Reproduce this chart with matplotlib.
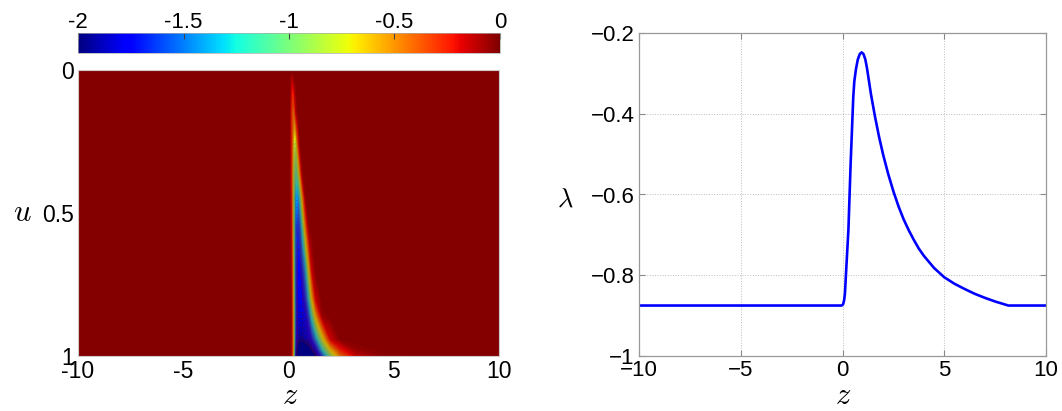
import numpy as np
import matplotlib
matplotlib.use('Agg')
import matplotlib.pyplot as plt
from matplotlib.cm import ScalarMappable
from matplotlib.colors import Normalize

plt.rcParams['font.family'] = ['Liberation Sans', 'DejaVu Sans']
plt.rcParams['mathtext.fontset'] = 'cm'
plt.rcParams['axes.unicode_minus'] = False

z_grid = [-10, 0.05, 0.15, 0.25, 0.35, 0.45, 0.55, 0.65, 0.8, 0.95, 1.1, 1.3, 1.6, 2.0, 2.5, 3.2, 4.5, 10]
u_grid = [0, 0.03, 0.15, 0.26, 0.36, 0.45, 0.55, 0.69, 0.8, 0.86, 0.94, 0.98, 1.0]
field = [
    [0, 0, 0,     0,     0,     0,     0,     0,     0,     0,     0,     0,     0,     0,     0,     0,     0,     0],
    [0, 0, -0.15, -0.05, 0,     0,     0,     0,     0,     0,     0,     0,     0,     0,     0,     0,     0,     0],
    [0, 0, -0.35, -0.5,  -0.15, 0,     0,     0,     0,     0,     0,     0,     0,     0,     0,     0,     0,     0],
    [0, 0, -0.3,  -0.8,  -0.85, -0.35, 0,     0,     0,     0,     0,     0,     0,     0,     0,     0,     0,     0],
    [0, 0, -0.3,  -0.95, -1.15, -0.95, -0.45, -0.05, 0,     0,     0,     0,     0,     0,     0,     0,     0,     0],
    [0, 0, -0.25, -1.0,  -1.45, -1.45, -1.15, -0.6,  -0.05, 0,     0,     0,     0,     0,     0,     0,     0,     0],
    [0, 0, -0.2,  -1.0,  -1.6,  -1.65, -1.55, -1.2,  -0.5,  -0.05, 0,     0,     0,     0,     0,     0,     0,     0],
    [0, 0, -0.15, -0.9,  -1.65, -1.75, -1.75, -1.65, -1.35, -0.7,  -0.15, 0,     0,     0,     0,     0,     0,     0],
    [0, 0, -0.1,  -0.85, -1.65, -1.8,  -1.8,  -1.8,  -1.65, -1.3,  -0.7,  -0.15, 0,     0,     0,     0,     0,     0],
    [0, 0, -0.1,  -0.8,  -1.65, -1.85, -1.85, -1.85, -1.8,  -1.6,  -1.2,  -0.6,  -0.05, 0,     0,     0,     0,     0],
    [0, 0, -0.1,  -0.8,  -1.7,  -1.9,  -1.95, -1.95, -1.9,  -1.85, -1.7,  -1.4,  -0.8,  -0.15, 0,     0,     0,     0],
    [0, 0, -0.1,  -0.8,  -1.8,  -2.1,  -2.2,  -2.2,  -2.15, -2.1,  -2.0,  -1.8,  -1.3,  -0.7,  -0.25, -0.05, -0.01, 0],
    [0, 0, -0.1,  -0.9,  -1.9,  -2.3,  -2.4,  -2.4,  -2.35, -2.3,  -2.2,  -2.0,  -1.6,  -1.0,  -0.45, -0.15, -0.03, 0],
]
cbar_ticks = [-2, -1.5, -1, -0.5, 0]
cbar_labels = ['-2', '-1.5', '-1', '-0.5', '0']

# right panel: lambda(z)
z_line = [-10, -0.04, 0.03, 0.08, 0.12, 0.2, 0.29, 0.40, 0.53, 0.58, 0.66, 0.75, 0.85, 0.94,
          1.03, 1.12, 1.2, 1.4, 1.6, 1.8, 2.0, 2.25, 2.5, 2.75, 3.0, 3.25, 3.5, 3.75, 4.0,
          4.5, 5.0, 5.5, 6.0, 6.5, 7.0, 7.5, 8.15, 10]
lam = [-0.875, -0.875, -0.872, -0.862, -0.845, -0.77, -0.688, -0.523, -0.358, -0.320,
       -0.290, -0.266, -0.252, -0.248, -0.252, -0.265, -0.286, -0.352, -0.408, -0.458,
       -0.502, -0.550, -0.592, -0.629, -0.661, -0.688, -0.712, -0.734, -0.752,
       -0.782, -0.805, -0.821, -0.834, -0.846, -0.856, -0.865, -0.875, -0.875]
lam_ticks = [-1, -0.8, -0.6, -0.4, -0.2]
lam_labels = ['\u22121', '\u22120.8', '\u22120.6', '\u22120.4', '\u22120.2']
z_ticks = [-10, -5, 0, 5, 10]
z_labels_r = ['\u221210', '\u22125', '0', '5', '10']

W, H = 1062, 411
fig = plt.figure(figsize=(W / 100, H / 100), dpi=100)

def box(x0, y0, x1, y1):
    return [x0 / W, 1 - y1 / H, (x1 - x0) / W, (y1 - y0) / H]

# ---- left: heat map
ax1 = fig.add_axes(box(78, 70, 499, 356))
ax1.set_facecolor('#800000')
levels = np.linspace(-2, 0, 101)
ax1.contourf(z_grid, u_grid, np.array(field), levels=levels, cmap='jet',
             extend='both', antialiased=True)
ax1.set_xlim(-10, 10)
ax1.set_ylim(1, 0)
ax1.set_xticks(z_ticks)
ax1.set_yticks([0, 0.5, 1])
ax1.set_yticklabels(['0', '0.5', '1'])
ax1.tick_params(length=0, labelsize=16.5, pad=3)
for s in ax1.spines.values():
    s.set_color('#cccccc')
    s.set_linewidth(0.8)

cax = fig.add_axes(box(78, 33, 500, 53))
sm = ScalarMappable(norm=Normalize(-2, 0), cmap='jet')
cb = fig.colorbar(sm, cax=cax, orientation='horizontal', ticks=cbar_ticks)
cb.ax.set_xticklabels(cbar_labels)
cax.xaxis.set_ticks_position('top')
cax.tick_params(direction='in', length=4, color='#444444', labelsize=16, pad=0)
cb.outline.set_linewidth(0.5)
cb.outline.set_edgecolor('#aaaaaa')

fig.text(22 / W, 1 - 213 / H, '$u$', fontsize=22, ha='center', va='center')
fig.text(290 / W, 1 - 396 / H, '$z$', fontsize=22, ha='center', va='center')

# ---- right: lambda curve
ax2 = fig.add_axes(box(639, 33, 1046, 356))
ax2.plot(z_line, lam, color='#0000ff', linewidth=1.9)
ax2.set_xlim(-10, 10)
ax2.set_ylim(-1, -0.2)
ax2.set_xticks(z_ticks)
ax2.set_xticklabels(z_labels_r)
ax2.set_yticks(lam_ticks)
ax2.set_yticklabels(lam_labels)
ax2.grid(True, linestyle=':', color='#bbbbbb', linewidth=0.7)
ax2.tick_params(direction='in', length=4, color='#888888', labelsize=16, pad=3,
                top=True, right=True)
for s in ax2.spines.values():
    s.set_color('#999999')
    s.set_linewidth(0.9)

fig.text(565 / W, 1 - 200 / H, r'$\lambda$', fontsize=19, ha='center', va='center')
fig.text(843 / W, 1 - 396 / H, '$z$', fontsize=22, ha='center', va='center')

fig.savefig('out.png', dpi=100)
